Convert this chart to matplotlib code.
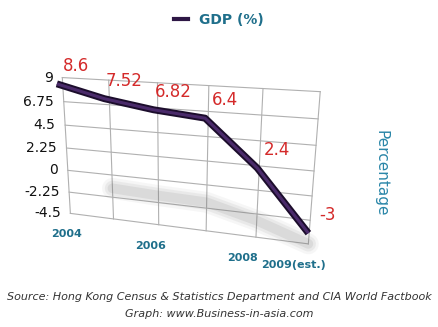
import numpy as np
import matplotlib.pyplot as plt
from matplotlib.lines import Line2D
from mpl_toolkits.mplot3d import proj3d

# Data
years = ['2004', '2005', '2006', '2007', '2008', '2009(est.)']
gdp = [8.6, 7.52, 6.82, 6.4, 2.4, -3]
value_ticks = [9, 6.75, 4.5, 2.25, 0, -2.25, -4.5]
labelled_years = ['2004', '2006', '2008', '2009(est.)']

line_color = '#2e1745'
teal = '#1f6f8b'
red = '#d42a2a'

fig = plt.figure(figsize=(4.38, 3.27), dpi=100)
ax = fig.add_axes([0.014, -0.024, 0.747, 1.0], projection='3d',
                  proj_type='persp', focal_length=0.33)
ax.set_xlim(0, len(years) - 1)
ax.set_ylim(-1, 0)
ax.set_zlim(min(value_ticks), max(value_ticks))
ax.set_box_aspect((1.63, 0.35, 0.95), zoom=0.94)
ax.view_init(elev=18, azim=-72.5)
ax.set_axis_off()

x = np.arange(len(years))
zmin, zmax = min(value_ticks), max(value_ticks)
depth = -0.22

# back wall grid
for v in value_ticks:
    ax.plot([x[0], x[-1]], [0, 0], [v, v], color='#b0b0b0', lw=0.8,
            clip_on=False)
for xi in x:
    ax.plot([xi, xi], [0, 0], [zmin, zmax], color='#b0b0b0', lw=0.8,
            clip_on=False)

# soft shadow on the wall
shadow_z = [zmin + 0.3 * (g - gdp[-1]) for g in gdp]
for lw, a in [(15, 0.06), (11, 0.09), (7, 0.12)]:
    ax.plot(x[1:], [0] * (len(x) - 1), shadow_z[1:], color='#707070',
            lw=lw, alpha=a, solid_capstyle='round', clip_on=False)

# the GDP ribbon
ax.plot(x, [depth] * len(x), gdp, color='#1c0d2c', lw=5,
        solid_joinstyle='round', solid_capstyle='butt', clip_on=False)
ax.plot(x, [depth] * len(x), gdp, color='#4a2a6a', lw=2.2,
        solid_joinstyle='round', solid_capstyle='butt', clip_on=False)

# project 3D anchors to figure pixels so texts are plain 2D annotations
fig.canvas.draw()


def to_pixels(px, py, pz):
    x2, y2, _ = proj3d.proj_transform(px, py, pz, ax.M)
    return tuple(ax.transData.transform((x2, y2)))


# value labels
for xi, g in zip(x, gdp):
    ax.annotate(f'{g:g}', to_pixels(xi, depth, g), xycoords='figure pixels',
                xytext=(14, 13), textcoords='offset points', color=red,
                fontsize=12, ha='center', va='center')

# value axis labels
for v in value_ticks:
    ax.annotate(f'{v:g}', to_pixels(0, 0, v), xycoords='figure pixels',
                xytext=(-7, 0), textcoords='offset points', color='#111111',
                fontsize=10, ha='right', va='center')

# year labels, staggered below the wall
for yr in labelled_years:
    xi = years.index(yr)
    ax.annotate(yr, to_pixels(xi, 0, zmin), xycoords='figure pixels',
                xytext=(-3 - 1.6 * xi, -15), textcoords='offset points',
                color=teal, fontsize=8, fontweight='bold',
                ha='center', va='center')

fig.text(0.87, 0.47, 'Percentage', rotation=-90, color='#2a86a8',
         fontsize=11, ha='center', va='center')

handle = Line2D([], [], color=line_color, lw=3)
fig.legend([handle], ['GDP (%)'], loc='upper center',
           bbox_to_anchor=(0.5, 1.0), frameon=False, handlelength=1.0,
           prop={'weight': 'bold', 'size': 10}, labelcolor=teal)

fig.text(0.5, 0.092, 'Source: Hong Kong Census & Statistics Department and CIA World Factbook',
         ha='center', va='center', fontsize=8, style='italic', color='#333333')
fig.text(0.5, 0.04, 'Graph: www.Business-in-asia.com',
         ha='center', va='center', fontsize=8, style='italic', color='#333333')

fig.savefig('out.png', dpi=100)
